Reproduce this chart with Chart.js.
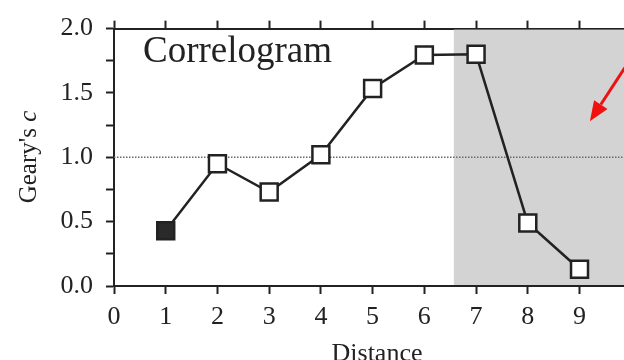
<!DOCTYPE html>
<html>
<head>
<meta charset="utf-8">
<script src="https://cdn.jsdelivr.net/npm/chart.js@4/dist/chart.umd.min.js"></script>
<style>
  html, body { margin: 0; padding: 0; background: #fff; }
  #wrap { width: 624px; height: 360px; position: relative; }
</style>
</head>
<body>
<div id="wrap"><canvas id="chart"></canvas></div>
<script>
// distance classes and Geary's c values
const distances = [1, 2, 3, 4, 5, 6, 7, 8, 9];
const gearyC = [0.43, 0.95, 0.73, 1.02, 1.535, 1.795, 1.80, 0.49, 0.13];
const significant = [true, false, false, false, false, false, false, false, false];
const yTicks = [0, 0.5, 1.0, 1.5, 2.0];

const xMin = 0, xMax = 9.86;
const yMin = 0, yMax = 2;
const expectedC = 1.0;     // reference line
const shadeFrom = 6.57;    // shaded band starts here (distance units)
const arrowFrom = { x: 9.98, y: 1.76 };
const arrowTo = { x: 9.2, y: 1.28 };

const ink = '#222';
const serif = '"Liberation Serif", "DejaVu Serif", serif';

const decor = {
  id: 'decor',
  beforeDatasetsDraw(chart) {
    const { ctx, chartArea: a, scales: { x, y } } = chart;
    ctx.save();
    // shaded band
    const sx = x.getPixelForValue(shadeFrom);
    ctx.fillStyle = '#d3d3d3';
    ctx.fillRect(sx, a.top + 1, a.right - sx, a.bottom - a.top - 2);
    // expected value line
    const ry = y.getPixelForValue(expectedC);
    ctx.strokeStyle = '#6a6a6a';
    ctx.lineWidth = 1.5;
    ctx.setLineDash([1.5, 1.5]);
    ctx.beginPath();
    ctx.moveTo(a.left, ry);
    ctx.lineTo(a.right, ry);
    ctx.stroke();
    ctx.setLineDash([]);
    ctx.restore();
  },
  afterDraw(chart) {
    const { ctx, scales: { x, y } } = chart;
    ctx.save();
    ctx.fillStyle = ink;
    // panel label
    ctx.font = '37px ' + serif;
    ctx.textBaseline = 'alphabetic';
    ctx.textAlign = 'left';
    ctx.fillText('Correlogram', 143, 62);
    // x title
    ctx.font = '26px ' + serif;
    ctx.textAlign = 'center';
    ctx.fillText('Distance', 377, 361);
    // y title with italic c
    ctx.translate(36, 157);
    ctx.rotate(-Math.PI / 2);
    const a1 = "Geary's ";
    ctx.font = '25px ' + serif;
    const w1 = ctx.measureText(a1).width;
    ctx.font = 'italic 25px ' + serif;
    const w2 = ctx.measureText('c').width;
    const start = -(w1 + w2) / 2;
    ctx.textAlign = 'left';
    ctx.font = '25px ' + serif;
    ctx.fillText(a1, start, 0);
    ctx.font = 'italic 25px ' + serif;
    ctx.fillText('c', start + w1, 0);
    ctx.restore();

    // red arrow
    const x0 = x.getPixelForValue(arrowFrom.x), y0 = y.getPixelForValue(arrowFrom.y);
    const x1 = x.getPixelForValue(arrowTo.x), y1 = y.getPixelForValue(arrowTo.y);
    const ang = Math.atan2(y1 - y0, x1 - x0);
    const head = 20, half = 8;
    const bx = x1 - head * Math.cos(ang), by = y1 - head * Math.sin(ang);
    ctx.save();
    ctx.strokeStyle = '#f01010';
    ctx.fillStyle = '#f01010';
    ctx.lineWidth = 3;
    ctx.beginPath();
    ctx.moveTo(x0, y0);
    ctx.lineTo(bx, by);
    ctx.stroke();
    ctx.beginPath();
    ctx.moveTo(x1, y1);
    ctx.lineTo(bx + half * Math.sin(ang), by - half * Math.cos(ang));
    ctx.lineTo(bx - half * Math.sin(ang), by + half * Math.cos(ang));
    ctx.closePath();
    ctx.fill();
    ctx.restore();
  }
};

const axisGrid = {
  drawOnChartArea: false,
  drawTicks: true,
  tickLength: 8,
  tickWidth: 2,
  tickColor: ink,
  color: ink
};
const axisBorder = { display: true, color: ink, width: 2 };

new Chart(document.getElementById('chart'), {
  type: 'scatter',
  data: {
    datasets: [{
      data: distances.map((d, i) => ({ x: d, y: gearyC[i] })),
      showLine: true,
      borderColor: ink,
      borderWidth: 2.5,
      pointStyle: 'rect',
      pointRadius: 12,
      pointHoverRadius: 12,
      pointBorderWidth: 2.5,
      pointBorderColor: ink,
      pointBackgroundColor: significant.map(s => s ? '#2a2a2a' : '#fff')
    }]
  },
  options: {
    responsive: true,
    maintainAspectRatio: false,
    animation: false,
    layout: { padding: 0, autoPadding: false },
    plugins: { legend: { display: false }, tooltip: { enabled: false } },
    scales: {
      x: {
        type: 'linear', position: 'bottom', min: xMin, max: xMax,
        afterFit: s => { s.height = 74; },
        border: axisBorder,
        grid: axisGrid,
        ticks: {
          stepSize: 1, includeBounds: false, autoSkip: false, padding: 8,
          color: ink, font: { family: serif, size: 26 },
          callback: v => String(v)
        }
      },
      xTop: {
        type: 'linear', position: 'top', min: xMin, max: xMax,
        afterFit: s => { s.height = 22; },
        border: axisBorder,
        grid: axisGrid,
        ticks: { stepSize: 1, includeBounds: false, display: false }
      },
      y: {
        type: 'linear', position: 'left', min: yMin, max: yMax,
        afterFit: s => { s.width = 114; },
        border: axisBorder,
        grid: axisGrid,
        ticks: {
          stepSize: 0.25, autoSkip: false, padding: 13,
          color: ink, font: { family: serif, size: 26 },
          callback: v => yTicks.some(t => Math.abs(t - v) < 1e-9) ? v.toFixed(1) : ''
        }
      }
    }
  },
  plugins: [decor]
});
</script>
</body>
</html>
